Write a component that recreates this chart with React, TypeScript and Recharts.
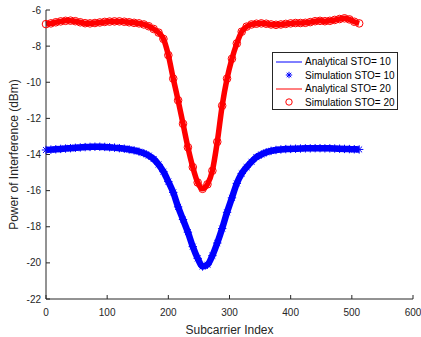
import { LineChart, Line, XAxis, YAxis } from "recharts"

const subcarriers = [
  0, 8, 16, 24, 32, 40, 48, 56, 64, 72, 80, 88, 96, 104, 112, 120, 128, 136, 144, 152, 160, 168, 176, 184, 192,
  200, 208, 216, 224, 232, 240, 248, 256, 264, 272, 280, 288, 296, 304, 312, 320, 328, 336, 344, 352, 360, 368,
  376, 384, 392, 400, 408, 416, 424, 432, 440, 448, 456, 464, 472, 480, 488, 496, 504, 512,
]

const sto10 = [
  -13.75, -13.73, -13.71, -13.69, -13.67, -13.65, -13.63, -13.61, -13.59, -13.58, -13.57, -13.57, -13.58, -13.6,
  -13.62, -13.65, -13.68, -13.72, -13.77, -13.84, -13.93, -14.06, -14.25, -14.55, -14.95, -15.5, -16.1, -16.9,
  -17.6, -18.3, -19.1, -19.75, -20.2, -20.1, -19.6, -18.9, -18.1, -17.2, -16.4, -15.6, -15.05, -14.7, -14.4,
  -14.15, -14.0, -13.88, -13.8, -13.75, -13.72, -13.7, -13.69, -13.68, -13.67, -13.66, -13.66, -13.65, -13.65,
  -13.66, -13.66, -13.67, -13.68, -13.69, -13.7, -13.71, -13.72,
]

const sto20 = [
  -6.78, -6.74, -6.68, -6.63, -6.6, -6.59, -6.62, -6.68, -6.73, -6.74, -6.72, -6.69, -6.66, -6.64, -6.63, -6.63,
  -6.65, -6.68, -6.71, -6.74, -6.8, -6.9, -7.05, -7.25, -7.6, -8.5, -9.8, -11.0, -12.3, -13.6, -14.7, -15.55,
  -15.9, -15.65, -14.9, -13.3, -11.3, -9.8, -8.7, -7.85, -7.2, -6.92, -6.8, -6.76, -6.74, -6.76, -6.8, -6.82,
  -6.8, -6.77, -6.74, -6.72, -6.72, -6.71, -6.67, -6.62, -6.6, -6.62, -6.6, -6.55, -6.5, -6.46, -6.52, -6.65,
  -6.74,
]

const xTicks = [0, 100, 200, 300, 400, 500, 600]
const yTicks = [-22, -20, -18, -16, -14, -12, -10, -8, -6]

const legendItems = [
  { label: "Analytical STO= 10", color: "#0000ff", kind: "line" },
  { label: "Simulation STO= 10", color: "#0000ff", kind: "star" },
  { label: "Analytical STO= 20", color: "#ff0000", kind: "line" },
  { label: "Simulation STO= 20", color: "#ff0000", kind: "circle" },
]

const data = subcarriers.map((sc, i) => ({ sc, sto10: sto10[i], sto20: sto20[i] }))

const AX = "#262626"
const FONT = "'Liberation Sans', Arial, Helvetica, sans-serif"

function Star({ cx, cy, color, s = 4.2 }: { cx: number; cy: number; color: string; s?: number }) {
  const d = s * 0.7
  return (
    <g stroke={color} strokeWidth={1}>
      <line x1={cx - s} x2={cx + s} y1={cy} y2={cy} />
      <line x1={cx} x2={cx} y1={cy - s} y2={cy + s} />
      <line x1={cx - d} x2={cx + d} y1={cy - d} y2={cy + d} />
      <line x1={cx - d} x2={cx + d} y1={cy + d} y2={cy - d} />
    </g>
  )
}

const BottomTick = ({ x, y, payload }: any) => (
  <g>
    <line x1={x} x2={x} y1={y} y2={y - 4} stroke={AX} />
    <text x={x} y={y + 17} textAnchor="middle" fontSize={10} fill={AX} fontFamily={FONT}>
      {payload.value}
    </text>
  </g>
)

const TopTick = ({ x, y }: any) => <line x1={x} x2={x} y1={y} y2={y + 4} stroke={AX} />

const LeftTick = ({ x, y, payload }: any) => (
  <g>
    <line x1={x} x2={x + 4} y1={y} y2={y} stroke={AX} />
    <text x={x - 5} y={y + 3.5} textAnchor="end" fontSize={10} fill={AX} fontFamily={FONT}>
      {payload.value}
    </text>
  </g>
)

const RightTick = ({ x, y }: any) => <line x1={x} x2={x - 4} y1={y} y2={y} stroke={AX} />

function LegendBox() {
  return (
    <div
      style={{
        position: "absolute",
        left: 272,
        top: 52,
        width: 126,
        height: 58,
        border: `1px solid ${AX}`,
        background: "#fff",
        fontFamily: FONT,
        fontSize: 10,
        color: "#000",
        paddingTop: 2,
        boxSizing: "border-box",
      }}
    >
      {legendItems.map((item) => (
        <div key={item.label} style={{ display: "flex", alignItems: "center", height: 13.5 }}>
          <svg width={30} height={12} style={{ marginLeft: 2 }}>
            {item.kind === "line" && <line x1={1} x2={27} y1={6} y2={6} stroke={item.color} />}
            {item.kind === "star" && <Star cx={14} cy={6} color={item.color} s={3.2} />}
            {item.kind === "circle" && <circle cx={14} cy={6} r={3.2} fill="none" stroke={item.color} />}
          </svg>
          <span style={{ whiteSpace: "nowrap" }}>{item.label}</span>
        </div>
      ))}
    </div>
  )
}

export default function App() {
  return (
    <div style={{ position: "absolute", left: 0, top: 0, width: 421, height: 337, background: "#fff" }}>
      <LineChart width={421} height={337} data={data} margin={{ top: 10, right: 8, left: 0, bottom: 0 }}>
        <XAxis
          xAxisId="b"
          dataKey="sc"
          type="number"
          domain={[0, 600]}
          ticks={xTicks}
          interval={0}
          height={38}
          stroke={AX}
          tickLine={false}
          tickSize={0}
          tickMargin={0}
          tick={<BottomTick />}
          label={{ value: "Subcarrier Index", position: "insideBottom", offset: 3, fontSize: 12, fill: AX, fontFamily: FONT }}
        />
        <XAxis
          xAxisId="t"
          dataKey="sc"
          type="number"
          orientation="top"
          domain={[0, 600]}
          ticks={xTicks}
          interval={0}
          height={0}
          stroke={AX}
          tickLine={false}
          tickSize={0}
          tickMargin={0}
          tick={<TopTick />}
        />
        <YAxis
          yAxisId="l"
          type="number"
          domain={[-22, -6]}
          ticks={yTicks}
          interval={0}
          width={46}
          stroke={AX}
          tickLine={false}
          tickSize={0}
          tickMargin={0}
          tick={<LeftTick />}
          label={{
            value: "Power of Interference (dBm)",
            angle: -90,
            position: "insideLeft",
            offset: 14,
            style: { textAnchor: "middle" },
            fontSize: 12,
            fill: AX,
            fontFamily: FONT,
          }}
        />
        <YAxis
          yAxisId="r"
          orientation="right"
          type="number"
          domain={[-22, -6]}
          ticks={yTicks}
          interval={0}
          width={0}
          stroke={AX}
          tickLine={false}
          tickSize={0}
          tickMargin={0}
          tick={<RightTick />}
        />
        <Line
          xAxisId="b"
          yAxisId="l"
          type="monotone"
          dataKey="sto10"
          stroke="#0000ff"
          strokeWidth={6.5}
          dot={false}
          isAnimationActive={false}
        />
        <Line
          xAxisId="b"
          yAxisId="l"
          dataKey="sto10"
          stroke="none"
          dot={(p: any) => <Star key={`s${p.index}`} cx={p.cx} cy={p.cy} color="#0000ff" />}
          isAnimationActive={false}
        />
        <Line
          xAxisId="b"
          yAxisId="l"
          type="monotone"
          dataKey="sto20"
          stroke="#ff0000"
          strokeWidth={5.5}
          dot={false}
          isAnimationActive={false}
        />
        <Line
          xAxisId="b"
          yAxisId="l"
          dataKey="sto20"
          stroke="none"
          dot={(p: any) => (
            <circle key={`c${p.index}`} cx={p.cx} cy={p.cy} r={3.8} fill="none" stroke="#ff0000" strokeWidth={1} />
          )}
          isAnimationActive={false}
        />
      </LineChart>
      <LegendBox />
    </div>
  )
}
